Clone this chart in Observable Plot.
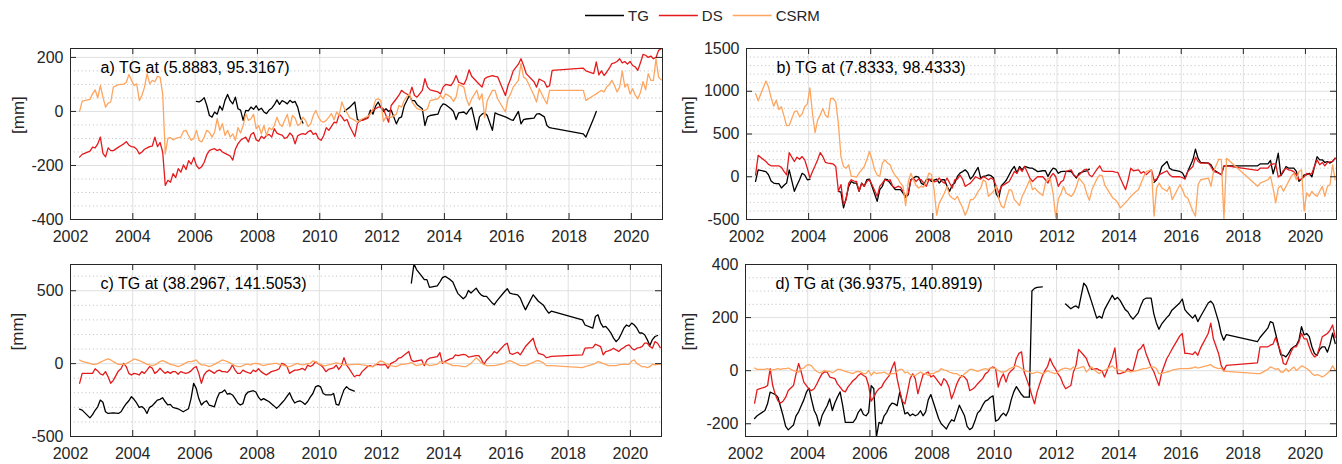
<!DOCTYPE html>
<html>
<head>
<meta charset="utf-8">
<script src="https://cdn.jsdelivr.net/npm/d3@7"></script>
<script src="https://cdn.jsdelivr.net/npm/@observablehq/plot@0.6"></script>
<style>
  html, body { margin: 0; padding: 0; background: #fff; }
  #fig { position: relative; width: 1342px; height: 464px; overflow: hidden;
         font-family: "Liberation Sans", Arial, Helvetica, sans-serif; }
</style>
</head>
<body>
<div id="fig"></div>
<script>
const _ = null; // missing tide-gauge month

// ---- time base: GRACE solution months, one row per year from 2002 to 2020 ----
const startYear = 2002;
const graceMonths = [
  [4,5,8,9,10,11,12],
  [1,2,3,4,5,7,8,9,10,11,12],
  [1,2,3,4,5,6,7,8,9,10,11,12],
  [1,2,3,4,5,6,7,8,9,10,11,12],
  [1,2,3,4,5,6,7,8,9,10,11,12],
  [1,2,3,4,5,6,7,8,9,10,11,12],
  [1,2,3,4,5,6,7,8,9,10,11,12],
  [1,2,3,4,5,6,7,8,9,10,11,12],
  [1,2,3,4,5,6,7,8,9,10,11,12],
  [2,3,4,5,7,8,9,10,11,12],
  [1,2,3,4,6,7,8,9,11,12],
  [1,2,4,5,6,7,10,11,12],
  [1,3,4,5,6,8,9,10,11],
  [1,2,3,4,5,7,8,9,12],
  [1,2,3,5,6,7,8,11,12],
  [1,3,4,5,6],
  [6,7,10,11,12],
  [1,2,3,4,5,6,7,8,9,10,11,12],
  [1,2,3,4,5,6,7,8,9,10,11,12]
];

const seriesNames = ["TG", "DS", "CSRM"];
const seriesColors = ["#000000", "#e41a1c", "#fea55f"];
const yearTicks = [2002, 2004, 2006, 2008, 2010, 2012, 2014, 2016, 2018, 2020];

// ---- a) TG at (5.8883, 95.3167), values in mm ----
const tgA = [
  [_,_,_,_,_,_,_],
  [_,_,_,_,_,_,_,_,_,_,_],
  [_,_,_,_,_,_,_,_,_,_,_,_],
  [_,_,_,_,_,_,_,_,_,_,_,_],
  [37,35,41,51,22,-15,-21,-2,-10,20,5,41],
  [63,40,28,53,10,5,-33,4,2,16,8,21],
  [5,12,-2,-8,5,12,25,43,26,40,35,28],
  [41,33,37,16,-23,-43,_,_,_,_,_,_],
  [_,_,_,_,_,_,_,_,_,0,8,15],
  [35,-30,-35,-30,-23,5,-10,20,35,15],
  [0,10,0,5,-46,-25,-20,20,59,40],
  [40,25,10,-52,-20,-15,-10,15,28],
  [25,10,0,-30,-5,-2,-10,5,15],
  [-68,-20,-10,-5,-15,-70,-5,-10,-20],
  [-25,-30,-33,0,-46,-30,-28,-25,-10],
  [-8,-20,-52,-60,-62],
  [-83,-95,-25,0,_],
  [_,_,_,_,_,_,_,_,_,_,_,_],
  [_,_,_,_,_,_,_,_,_,_,_,_]
];
const dsA = [
  [-169,-159,-147,-132,-135,-120,-95],
  [-155,-168,-135,-145,-145,-132,-126,-120,-112,-125,-130],
  [-132,-140,-157,-150,-140,-135,-130,-128,-95,-130,-115,-150],
  [-274,-255,-262,-230,-245,-212,-225,-198,-215,-182,-195,-170],
  [-200,-212,-205,-188,-160,-145,-140,-138,-145,-140,-150,-155],
  [-160,-165,-180,-140,-120,-107,-100,-95,-113,-85,-78,-105],
  [-110,-92,-100,-89,-85,-95,-64,-80,-85,-88,-100,-95],
  [-80,-90,-120,-90,-85,-82,-85,-75,-70,-85,-80,-100],
  [-107,-90,-60,-70,-55,-40,-42,-10,-20,-35,-30,-55],
  [-93,-45,-33,-33,-25,-5,4,10,16,16],
  [10,-15,-40,22,47,60,78,70,59,90],
  [59,53,78,121,90,80,72,65,90],
  [100,96,110,133,108,100,120,154,130],
  [110,100,90,121,127,133,130,128,59],
  [96,120,150,175,195,170,140,110,90],
  [120,110,90,95,152],
  [160,150,140,183,135],
  [150,133,145,160,177,180,185,195,180,185,175,185],
  [170,165,152,180,211,208,200,205,195,200,226,232]
];
const csrmA = [
  [0,38,45,65,80,50,96],
  [53,16,31,35,90,99,100,100,108,137,115],
  [96,102,40,59,90,140,102,115,110,130,127,65],
  [-157,-100,-97,-105,-100,-97,-95,-73,-70,-90,-107,-100],
  [-70,-107,-113,-95,-70,-77,-95,-77,-27,-70,-45,-89],
  [-70,-95,-83,-107,-60,-80,-52,-8,-33,-27,-11,-64],
  [-52,-83,-52,-89,-60,-68,-52,-21,-46,-56,-33,-11],
  [-56,-15,-24,-52,-46,-21,-33,-56,-46,-15,4,-21],
  [-36,-40,-33,-21,-8,-31,-2,-15,35,10,-5,-23],
  [-33,-40,-33,-27,-18,-10,10,43,47,40],
  [-37,-20,-20,-22,-10,22,16,41,65,35],
  [22,10,4,4,10,40,47,59,47],
  [65,53,37,53,100,90,47,22,47],
  [78,43,65,-23,40,78,78,47,-2],
  [47,65,90,115,177,127,120,60,35],
  [84,45,28,78,78],
  [78,41,59,65,72],
  [78,72,90,100,115,96,72,90,149,90,102,65],
  [84,60,47,70,110,80,140,115,115,195,127,117]
];

// ---- b) TG at (7.8333, 98.4333) ----
const tgB = [
  [-54,81,60,23,-50,-74,-80],
  [-80,-132,-100,-74,81,-170,-100,-35,40,20,-35],
  [-30,_,_,_,_,_,_,_,_,_,_,-170],
  [-180,-364,-250,-112,-55,-74,-74,-170,-74,-112,-35,-27],
  [-112,-200,-287,-150,-112,-27,-35,-74,-112,-151,-151,-151],
  [-190,-240,-210,-35,-15,4,-4,-74,-93,-35,-27,-55],
  [-40,-27,-74,-35,-35,-112,-170,-100,-74,4,43,60],
  [81,50,-27,4,60,109,-15,4,10,23,12,-15],
  [-200,-248,-105,-74,-35,23,81,120,43,120,81,120],
  [100,100,81,60,70,70,4,60,100,90],
  [40,60,62,62,60,20,-15,40,62,70],
  [89,_,_,_,_,_,_,_,_],
  [_,_,_,_,_,_,_,_,_],
  [_,-66,-35,23,120,178,100,81,62],
  [43,-15,60,198,322,217,167,159,140],
  [81,43,23,128,128],
  [128,150,150,190,35],
  [140,275,12,60,120,100,100,100,62,-54,-27,23],
  [23,40,0,120,236,198,198,167,178,160,180,217]
];
const dsB = [
  [20,250,178,145,128,128,128],
  [128,110,62,23,283,178,229,205,236,198,100],
  [-15,62,128,200,283,236,167,160,155,150,120,-170],
  [-93,-325,-270,-74,-35,-50,-55,-170,-75,-112,-55,-35],
  [-93,-160,-229,-112,-74,-35,-50,-35,-112,-132,-112,-120],
  [-170,-229,-190,-40,-15,-55,-27,-35,-74,-112,-35,-27],
  [-60,-50,-15,-55,-74,-15,-74,-132,-35,-27,20,-27],
  [-112,-93,-74,-40,0,-15,-27,0,-15,-35,-15,-35],
  [-112,-190,-112,-93,-74,-55,0,62,40,100,62,120],
  [-15,-55,-27,0,0,-35,-74,0,40,0],
  [-112,-60,-40,62,81,15,0,20,81,90],
  [20,0,89,128,70,62,62,55,50],
  [-20,-151,-35,100,70,80,40,60,25],
  [81,-43,-27,23,40,70,23,0,0],
  [-10,-27,60,120,229,178,159,159,120],
  [62,43,23,128,128],
  [74,100,100,140,151],
  [151,-4,20,74,100,81,74,60,23,-35,-27,0],
  [40,23,40,120,198,140,167,128,167,175,180,217]
];
const csrmB = [
  [973,888,1120,1050,926,826,895],
  [787,818,709,597,600,760,771,701,733,818,849],
  [1039,740,515,663,721,798,720,694,915,915,876,624],
  [236,120,100,140,4,4,-4,43,81,120,198,295],
  [205,81,20,4,159,198,159,140,62,12,-20,-74],
  [-112,-337,-60,40,-35,-100,-132,-112,-120,-50,43,23],
  [-151,-450,-306,-248,-190,-112,-220,-248,-267,-229,-300,-360],
  [-450,-380,-267,-267,-230,-170,-132,-35,-60,-229,-200,-170],
  [-112,-260,-345,-364,-248,-151,-160,-267,-300,-337,-229,-170],
  [-35,-151,-132,-170,-220,-74,-15,-35,-200,-480],
  [-260,-200,-112,-190,-230,-190,-112,-15,-93,-200],
  [-275,-150,-20,19,10,-100,-248,-267,-306],
  [-364,-300,-267,-230,-200,-150,-74,0,62],
  [80,-460,-132,-74,-132,-170,-112,-267,-93],
  [-151,-229,-248,-403,-460,-93,-35,-15,-112],
  [62,205,200,-495,217],
  [-112,-74,-35,4,-132],
  [-306,-132,-105,-170,-112,-54,4,43,-35,62,81,-400],
  [-190,-229,-170,-209,-229,-170,-112,-229,-112,-93,140,-35]
];

// ---- c) TG at (38.2967, 141.5053) ----
const tgC = [
  [-312,-319,-372,-350,-320,-296,-250],
  [-265,-330,-342,-340,-338,-342,-330,-300,-275,-255,-227],
  [-245,-270,-300,-295,-310,-342,-300,-290,-270,-250,-245,-234],
  [-260,-283,-280,-300,-305,-310,-320,-330,-320,-310,-240,-135],
  [-170,-240,-284,-265,-255,-284,-290,-296,-240,-200,-195,-181],
  [-210,-205,-215,-240,-270,-284,-275,-215,-195,-190,-186,-195],
  [-230,-250,-240,-250,-260,-275,-290,-307,-290,-270,-250,-225],
  [-200,-240,-270,-260,-255,-265,-280,-260,-230,-205,-160,-151],
  [-160,-205,-215,-215,-215,-205,-280,-284,-230,-180,-158,-175],
  [-188,_,_,_,_,_,_,_,_,_],
  [_,_,_,_,_,_,_,_,_,553],
  [684,645,600,576,576,523,534,560,590],
  [599,576,560,518,480,445,461,502,484],
  [518,490,470,461,461,420,404,430,495],
  [514,484,478,472,450,408,369,472,450],
  [428,400,370,346,360],
  [300,265,243,323,335],
  [280,250,255,235,210,175,151,170,205,243,265,255],
  [278,265,243,210,210,198,165,124,165,186,193,_]
];
const dsC = [
  [-135,-67,-67,-67,-35,-50,-70],
  [-78,-55,-90,-135,-115,-50,-35,2,-20,-67,-78],
  [-67,-70,-78,-55,-67,-45,-21,-30,-67,-55,-32,-50],
  [-67,-55,-67,-55,-55,-73,-55,-62,-67,-62,-50,-30],
  [-20,-67,-135,-78,-55,-45,-55,-67,-50,-45,-55,-55],
  [-60,-40,-9,-45,-67,-67,-45,-55,-62,-67,-45,-55],
  [-35,-55,-67,-78,-67,-55,-50,-45,-35,2,-5,-20],
  [-67,-55,-45,-45,-40,-32,-45,-10,-20,-10,14,0],
  [-10,-27,-55,-40,-35,-30,-10,-40,-15,41,-10,-35],
  [-90,-80,-83,-55,-21,-14,-21,-9,-5,-9],
  [-9,-5,-32,0,18,37,41,55,83,25],
  [14,18,25,-14,25,37,48,76,2],
  [15,32,37,60,55,64,60,45,48],
  [55,55,30,-5,25,60,83,71,130],
  [140,71,64,78,60,87,117,174,110],
  [71,60,41,45,50],
  [60,106,110,133,125],
  [117,60,83,87,94,106,94,83,100,110,124,128],
  [106,94,106,110,117,140,140,117,106,151,140,110]
];
const csrmC = [
  [25,15,2,-5,-5,0,10],
  [18,25,32,25,14,-5,-5,-5,0,10,20],
  [32,28,20,14,5,-5,-9,-14,-9,0,14,20],
  [14,5,-5,-9,-14,-21,-14,-5,5,14,14,18],
  [25,5,-9,-9,-14,-20,-14,-5,5,14,25,20],
  [14,5,-5,-14,-20,-21,-14,-5,-5,-9,0,2],
  [0,-9,-14,-9,-5,-2,2,2,-5,-9,-14,-20],
  [-21,-14,-5,2,-5,-9,-5,0,2,18,14,2],
  [-5,-14,-14,-9,-5,0,5,2,-5,-9,-5,-9],
  [-5,-5,-5,-9,-14,-21,-21,-9,5,18],
  [14,0,-5,-14,-21,-14,-5,-5,2,9],
  [-5,-14,-5,0,-5,-14,-5,14,9],
  [9,-5,-14,-14,-14,-21,-21,-9,2],
  [41,25,5,-5,-14,-14,-14,-10,2],
  [14,21,14,-5,-14,-14,-14,9,18],
  [21,5,-14,-14,-14],
  [-28,-21,-5,2,14],
  [9,0,-5,-14,-14,-14,-14,-9,-5,-5,-5,-5],
  [18,25,0,-9,-21,-21,-28,-21,-5,-9,-5,-5]
];

// ---- d) TG at (36.9375, 140.8919) ----
const tgD = [
  [-180,-170,-150,-125,-81,-85,-90],
  [-100,-135,-170,-210,-223,-205,-170,-155,-132,-110,-81],
  [-66,-110,-150,-170,-208,-170,-150,-132,-106,-150,-121,-99],
  [-80,-132,-195,-195,-195,-195,-182,-157,-144,-165,-170,-157],
  [-56,-68,-250,-195,-200,-170,-157,-135,-122,-125,-132,-81],
  [-120,-163,-157,-170,-163,-170,-165,-151,-170,-155,-110,-90],
  [-120,-150,-180,-200,-210,-220,-200,-185,-190,-160,-130,-150],
  [-170,-210,-222,-215,-190,-160,-150,-130,-115,-110,-100,-95],
  [-190,-185,-170,-160,-170,-150,-110,-80,-60,-75,-90,-100],
  [-100,300,310,314,316,_,_,_,_,_],
  [_,_,_,251,233,240,244,236,330,318],
  [290,260,198,205,198,230,284,268,276],
  [265,230,222,205,194,218,245,267,273],
  [273,215,180,156,175,200,210,228,255],
  [270,230,218,198,210,185,203,255,262],
  [250,185,140,115,136],
  [109,125,160,185,180],
  [140,100,60,58,52,65,82,90,96,115,166,135],
  [140,128,90,65,58,80,90,90,70,100,141,103]
];
const dsD = [
  [-122,-71,-62,-56,8,-56,-90],
  [-113,-122,-115,-100,-75,-56,-12,27,-5,-43,-56],
  [-70,-75,-68,-50,-30,-12,-5,-5,-24,-27,-30,-50],
  [-62,-75,-80,-62,-50,-37,-30,-18,-11,-18,-24,-56],
  [-115,-100,-80,-68,-62,-43,-30,-18,10,33,-30,-75],
  [-115,-125,-80,-30,-12,-30,-87,-50,-15,-10,-5,-24],
  [-18,-30,-43,-56,-30,-40,-62,-106,-80,-50,-30,-18],
  [-24,-36,-75,-70,-62,-50,-40,-30,-12,-5,10,14],
  [8,-62,-30,-12,-43,-12,0,8,46,65,71,-5],
  [-60,-94,-125,-80,-20,0,15,46,23,8],
  [-11,-25,-50,-68,-56,-5,20,80,58,46],
  [20,5,8,2,0,-24,50,86,-11],
  [-11,-5,8,1,1,77,84,99,65],
  [14,-3,-30,-56,-10,45,62,80,130],
  [140,65,65,61,71,58,84,140,179],
  [120,65,20,1,20],
  [29,90,90,96,100],
  [125,96,71,27,23,48,71,90,90,109,141,120],
  [120,90,65,52,58,90,128,134,140,153,172,125]
];
const csrmD = [
  [10,5,5,8,1,3,5],
  [8,5,8,8,10,0,-3,-5,8,10,20],
  [23,18,5,-3,-8,-5,1,-3,-3,-8,-3,5],
  [5,1,-3,-5,-8,-11,-5,-3,-5,-11,-11,1],
  [-18,-5,-11,-8,-8,-5,-11,-15,-11,-11,-3,5],
  [5,-8,-5,-15,-18,-18,-11,-5,-11,-11,-18,-11],
  [-11,-5,-3,8,3,1,-5,-8,-11,-11,-18,-24],
  [-11,-5,5,5,1,-3,1,5,8,4,10,10],
  [8,1,-5,-5,-3,5,10,14,18,14,8,1],
  [-5,-11,-8,-5,-11,-8,1,-5,-8,-11],
  [-5,3,8,10,5,14,8,10,16,-5],
  [5,14,-5,-11,0,1,18,8,5],
  [1,-5,-1,-5,-3,1,5,8,8],
  [14,14,8,-11,-11,-5,-3,2,8],
  [8,8,8,10,14,10,12,20,23],
  [14,8,10,-3,-3],
  [-11,-11,5,14,10],
  [5,8,-5,-5,8,-3,5,14,1,8,18,14],
  [8,1,-11,-18,-15,-18,-24,-18,-10,0,18,2]
];

const panelTitles = [
  "a) TG at (5.8883, 95.3167)",
  "b) TG at (7.8333, 98.4333)",
  "c) TG at (38.2967, 141.5053)",
  "d) TG at (36.9375, 140.8919)"
];
const panelSeries = [[tgA, dsA, csrmA], [tgB, dsB, csrmB], [tgC, dsC, csrmC], [tgD, dsD, csrmD]];
const panelYDomains = [[-400, 233], [-500, 1500], [-500, 680], [-248, 400]];
const panelYTicks = [[-400, -200, 0, 200], [-500, 0, 500, 1000, 1500], [-500, 0, 500], [-200, 0, 200, 400]];
const panelMinorStep = [50, 100, 100, 50];

// where each axes box sits in the figure
const layout = [
  {left: 0,   top: 28,  width: 671, height: 218, ml: 70, mr: 9,  mt: 20, mb: 27, labelOffset: 52},
  {left: 671, top: 28,  width: 671, height: 218, ml: 75, mr: 6,  mt: 20, mb: 27, labelOffset: 58},
  {left: 0,   top: 240, width: 671, height: 224, ml: 70, mr: 10, mt: 24, mb: 28, labelOffset: 53},
  {left: 671, top: 240, width: 671, height: 224, ml: 74, mr: 6,  mt: 24, mb: 28, labelOffset: 57}
];

const problems = [];
function toRows(series, name, tag) {
  if (series.length !== graceMonths.length) problems.push(`${tag} ${name}: ${series.length} years`);
  const out = [];
  series.forEach((vals, i) => {
    const months = graceMonths[i];
    if (vals.length !== months.length) problems.push(`${tag} ${name} ${startYear + i}: ${vals.length}/${months.length}`);
    months.forEach((m, j) => {
      const v = vals[j];
      out.push({t: startYear + i + (m - 0.5) / 12, v: v == null ? null : v, name});
    });
  });
  return out;
}

const fig = document.getElementById("fig");
const axisColor = "#262626";
const font = '"Liberation Sans", Arial, Helvetica, sans-serif';

panelTitles.forEach((title, p) => {
  const L = layout[p];
  const innerW = L.width - L.ml - L.mr;
  const innerH = L.height - L.mt - L.mb;
  const yDomain = panelYDomains[p];
  const yTicks = panelYTicks[p];
  const step = panelMinorStep[p];
  const minor = d3.range(Math.ceil(yDomain[0] / step) * step, yDomain[1] + 1e-9, step)
    .filter(v => !yTicks.includes(v));
  const rows = panelSeries[p].flatMap((s, k) => toRows(s, seriesNames[k], title.slice(0, 2)));

  const svg = Plot.plot({
    width: L.width,
    height: L.height,
    marginLeft: L.ml,
    marginRight: L.mr,
    marginTop: L.mt,
    marginBottom: L.mb,
    style: {background: "none", fontFamily: font, fontSize: "16px", color: axisColor, overflow: "visible"},
    x: {domain: [2002, 2021], label: null},
    y: {domain: yDomain, label: null},
    color: {domain: seriesNames, range: seriesColors},
    marks: [
      Plot.ruleY(minor, {stroke: "#c6c6c6", strokeDasharray: "1.2,2.6"}),
      Plot.ruleX(yearTicks, {stroke: "#e0e0e0"}),
      Plot.ruleY(yTicks, {stroke: "#e0e0e0"}),
      Plot.line(rows, {x: "t", y: "v", z: "name", stroke: "name", strokeWidth: 1.3, clip: true}),
      Plot.frame({stroke: axisColor, strokeWidth: 1}),
      Plot.tickX(yearTicks, {x: d => d, insetTop: innerH - 6, stroke: axisColor}),
      Plot.tickX(yearTicks, {x: d => d, insetBottom: innerH - 6, stroke: axisColor}),
      Plot.tickY(yTicks, {y: d => d, insetRight: innerW - 6, stroke: axisColor}),
      Plot.tickY(yTicks, {y: d => d, insetLeft: innerW - 6, stroke: axisColor}),
      Plot.axisX(yearTicks, {anchor: "bottom", tickSize: 0, tickPadding: 11, tickFormat: d => String(d), label: null}),
      Plot.axisY(yTicks, {anchor: "left", tickSize: 0, tickPadding: 7, tickFormat: d => String(d), label: null}),
      Plot.text([title], {text: d => d, frameAnchor: "top-left", dx: 30, dy: 19,
        textAnchor: "start", lineAnchor: "middle", fontSize: 16, fill: "#000"}),
      Plot.text(["[mm]"], {text: d => d, frameAnchor: "left", dx: -L.labelOffset, rotate: -90,
        fontSize: 17, fill: axisColor})
    ]
  });
  svg.style.position = "absolute";
  svg.style.left = L.left + "px";
  svg.style.top = L.top + "px";
  fig.appendChild(svg);
});

// ---- legend across the top ----
const legend = d3.select(fig).append("svg")
  .attr("width", 1342).attr("height", 30)
  .style("position", "absolute").style("left", "0px").style("top", "0px")
  .style("font-family", font).style("font-size", "15px");
let lx = 585;
seriesNames.forEach((name, i) => {
  legend.append("line")
    .attr("x1", lx).attr("x2", lx + 39).attr("y1", 15.5).attr("y2", 15.5)
    .attr("stroke", seriesColors[i]).attr("stroke-width", 1.3);
  const t = legend.append("text")
    .attr("x", lx + 43).attr("y", 15.5).attr("dy", "0.35em")
    .attr("fill", axisColor).text(name);
  lx += 43 + t.node().getComputedTextLength() + 10;
});

if (problems.length) throw new Error("row length mismatch: " + problems.join("; "));
</script>
</body>
</html>
